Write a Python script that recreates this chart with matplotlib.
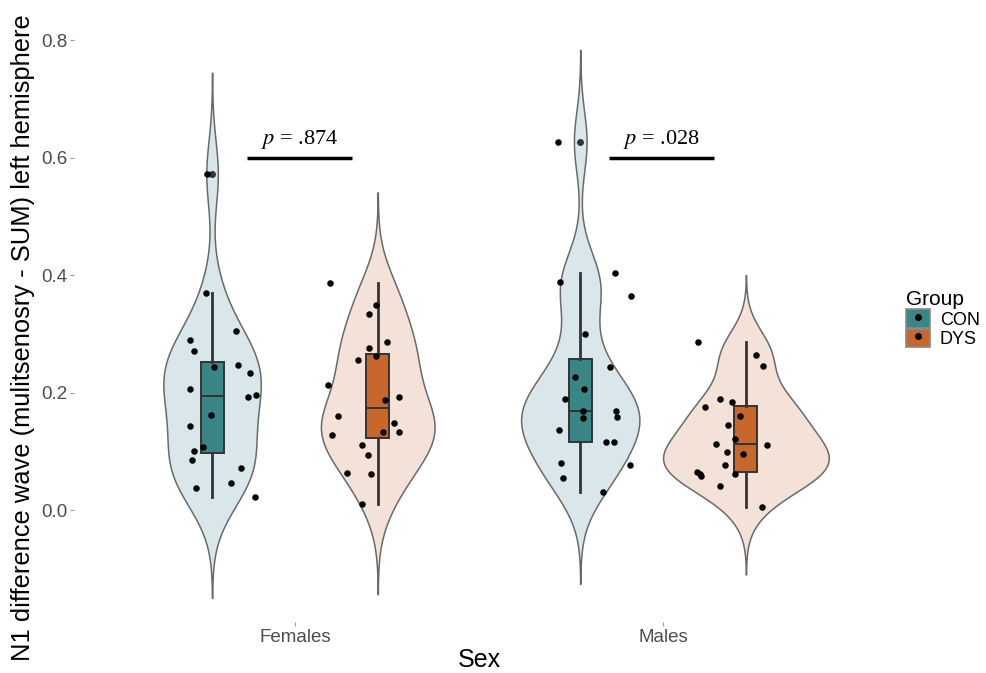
import numpy as np
import matplotlib
matplotlib.use("Agg")
import matplotlib.pyplot as plt
from matplotlib.patches import Patch
from matplotlib.lines import Line2D
from matplotlib.legend_handler import HandlerTuple

plt.rcParams['font.family'] = ['Liberation Sans', 'DejaVu Sans']
plt.rcParams['mathtext.fontset'] = 'stix'

# Kategorien und Gruppen
sexes = ['Females', 'Males']
groups = ['CON', 'DYS']

f_con = [0.572, 0.370, 0.305, 0.289, 0.271, 0.244, 0.247, 0.234, 0.207, 0.192,
         0.196, 0.162, 0.143, 0.108, 0.101, 0.086, 0.072, 0.047, 0.038, 0.023]
f_dys = [0.387, 0.349, 0.334, 0.287, 0.276, 0.256, 0.262, 0.213, 0.188, 0.192, 0.160,
         0.149, 0.133, 0.134, 0.128, 0.111, 0.094, 0.063, 0.061, 0.011]
m_con = [0.627, 0.404, 0.389, 0.365, 0.300, 0.244, 0.226, 0.206, 0.190, 0.169,
         0.169, 0.159, 0.157, 0.137, 0.117, 0.116, 0.080, 0.077, 0.055, 0.031]
m_dys = [0.286, 0.264, 0.245, 0.189, 0.184, 0.175, 0.160, 0.145, 0.121, 0.113, 0.111,
         0.100, 0.096, 0.077, 0.066, 0.062, 0.058, 0.061, 0.042, 0.005]

# Jitter der Punkte (in Einheiten der Kategorienbreite)
jit_f_con = [-0.014, -0.016, 0.065, -0.061, -0.050, 0.006, 0.071, 0.104, -0.061, 0.097,
             0.118, -0.004, -0.061, -0.025, -0.048, -0.054, 0.079, 0.051, -0.043, 0.117]
jit_f_dys = [-0.131, -0.005, -0.025, 0.025, -0.024, -0.054, -0.006, -0.135, 0.021, 0.059, -0.107,
             0.043, 0.013, 0.057, -0.123, -0.044, -0.027, -0.084, -0.017, -0.043]
jit_m_con = [-0.060, 0.094, -0.056, 0.138, 0.012, 0.081, -0.014, 0.009, -0.042, 0.008,
             0.098, 0.100, 0.007, -0.058, 0.071, 0.093, -0.051, 0.134, -0.046, 0.061]
jit_m_dys = [-0.130, 0.026, 0.045, -0.071, -0.038, -0.112, -0.017, -0.048, -0.030, -0.081, 0.058,
             -0.052, -0.007, -0.058, -0.132, -0.126, -0.122, -0.031, -0.070, 0.043]

# p-Werte
p_labels = ['.874', '.028']

data = [f_con, f_dys, m_con, m_dys]
jitter = [jit_f_con, jit_f_dys, jit_m_con, jit_m_dys]

violin_col = {'CON': '#dae7ea', 'DYS': '#f4e2d8'}
box_col = {'CON': '#3a8686', 'DYS': '#c8672b'}

dodge = 0.225
positions = []
grp_of = []
for i, s in enumerate(sexes):
    for j, g in enumerate(groups):
        positions.append(i + 1 + (j * 2 - 1) * dodge)
        grp_of.append(g)


def kde_r(v):
    # Dichte wie in R: bw.nrd0, Rand 3*bw
    v = np.asarray(v)
    n = len(v)
    q75, q25 = np.percentile(v, [75, 25])
    lo = min(np.std(v, ddof=1), (q75 - q25) / 1.34)
    bw = 0.9 * lo * n ** -0.2
    grid = np.linspace(v.min() - 3 * bw, v.max() + 3 * bw, 512)
    dens = np.exp(-0.5 * ((grid[:, None] - v[None, :]) / bw) ** 2).sum(axis=1)
    dens /= n * bw * np.sqrt(2 * np.pi)
    return grid, dens


dens_all = [kde_r(v) for v in data]
dmax = max(d.max() for _, d in dens_all)

fig = plt.figure(figsize=(9.86, 6.73), dpi=100)
ax = fig.add_axes([74 / 986, 1 - 622 / 673, 810 / 986, 605.5 / 673])

# Violinen
for pos, g, (grid, dens) in zip(positions, grp_of, dens_all):
    half = dens / dmax * dodge
    ax.fill_betweenx(grid, pos - half, pos + half, facecolor=violin_col[g],
                     edgecolor='#6a6a6a', linewidth=1.1, zorder=1)

# Boxplots (mit Ausreissern wie in ggplot)
bp = ax.boxplot(data, positions=positions, widths=0.0625, patch_artist=True,
                whis=1.5, showcaps=False, manage_ticks=False,
                boxprops=dict(edgecolor='#333333', linewidth=1.4),
                medianprops=dict(color='#333333', linewidth=1.4),
                whiskerprops=dict(color='#333333', linewidth=2.0),
                flierprops=dict(marker='o', markerfacecolor='#333333', markeredgecolor='none',
                                markersize=5))
for patch, g in zip(bp['boxes'], grp_of):
    patch.set_facecolor(box_col[g])
    patch.set_zorder(2)

# Punkte
for pos, v, jt in zip(positions, data, jitter):
    ax.scatter(pos + np.asarray(jt), v, s=22, color='black', linewidths=0, zorder=4)

# Signifikanz-Linien
p_lines = [(0.87, 1.155), (1.853, 2.139)]
for (x0, x1), lab in zip(p_lines, p_labels):
    ax.plot([x0, x1], [0.6, 0.6], color='black', linewidth=2.5, solid_capstyle='butt', zorder=3)
    ax.text((x0 + x1) / 2, 0.611, r'$p$ = ' + lab, ha='center', va='bottom',
            fontfamily='Liberation Serif', fontsize=16)

ax.set_xlim(0.4, 2.6)
ax.set_ylim(-0.19, 0.84)
ax.set_xticks([1, 2])
ax.set_xticklabels(sexes)
ax.set_yticks([0.0, 0.2, 0.4, 0.6, 0.8])
ax.set_yticklabels(['0.0', '0.2', '0.4', '0.6', '0.8'])
for sp in ax.spines.values():
    sp.set_visible(False)
ax.tick_params(length=3, width=0.8, color='#9a9a9a', labelcolor='#4d4d4d', labelsize=13.5, pad=2)

ax.set_xlabel('Sex', fontsize=18, va='center')
ax.set_ylabel('N1 difference wave (mulitsenosry - SUM) left hemisphere', fontsize=18.4)
ax.xaxis.set_label_coords(0.5, -0.063)
ax.yaxis.set_label_coords(-0.048, 0.47)

# Legende
handles = []
for g in groups:
    handles.append((Patch(facecolor=box_col[g], edgecolor='#8a8a8a', linewidth=1.2),
                    Line2D([], [], marker='o', color='black', linestyle='', markersize=4)))
leg = fig.legend(handles, groups, title='Group', loc='upper left',
                 bbox_to_anchor=(890 / 986, 1 - 274 / 673), frameon=False,
                 handler_map={tuple: HandlerTuple(ndivide=1)},
                 handlelength=1.3, handleheight=1.2, handletextpad=0.55,
                 labelspacing=0.0, fontsize=13, title_fontsize=15)
leg._legend_box.align = 'left'

fig.savefig('out.png', dpi=100)
